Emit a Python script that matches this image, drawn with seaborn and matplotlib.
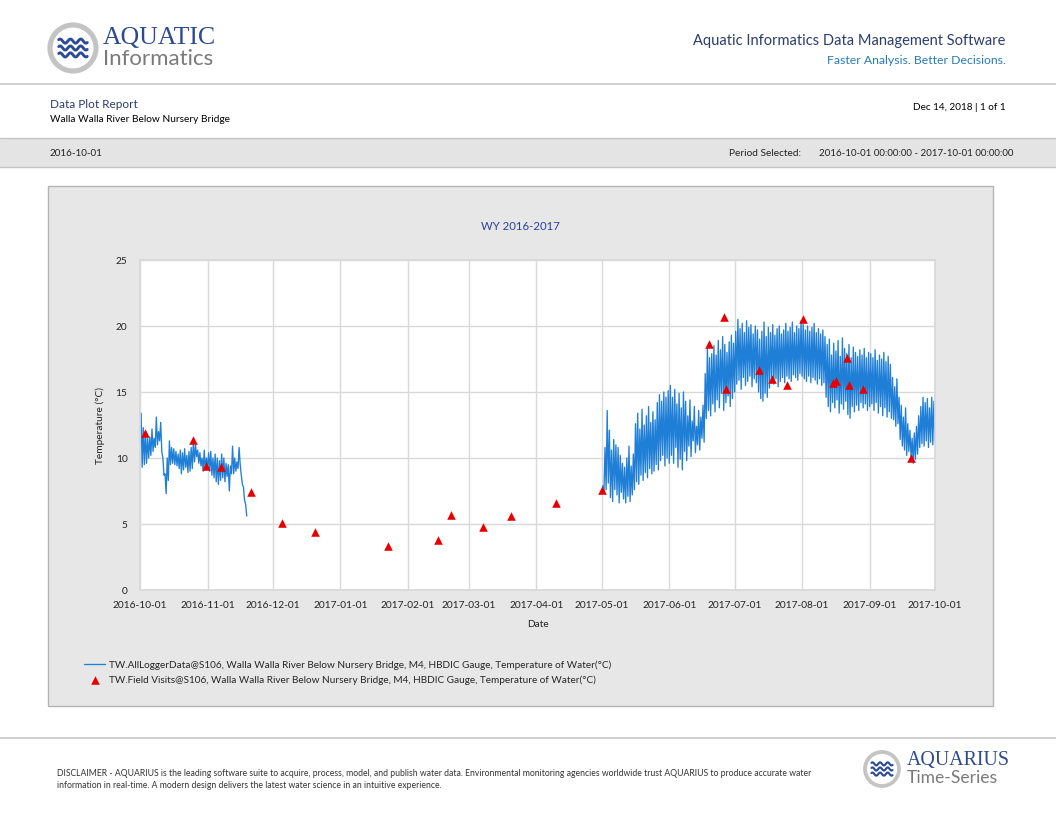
import numpy as np
import pandas as pd
import matplotlib
matplotlib.use("Agg")
import matplotlib.pyplot as plt
import matplotlib.dates as mdates
from matplotlib.patches import Rectangle, Circle
import seaborn as sns

# daily high / low of the logger (degC)
seg1_start = "2016-10-01"
seg1_max = [13.4, 12.3, 12.0, 11.5, 11.6, 12.2, 11.5, 13.1, 12.0, 12.7, 10.0, 8.8, 10.0, 11.3,
            10.8, 10.7, 10.5, 10.3, 10.6, 10.4, 10.7, 10.2, 10.5, 10.8, 11.3, 11.0, 10.6, 10.4,
            10.0, 10.6, 10.0, 10.4, 10.5, 10.0, 10.3, 10.0, 9.8, 10.3, 10.0, 9.6, 9.5, 9.4,
            10.9, 10.0, 9.7, 10.8, 8.7, 7.8, 6.5]
seg1_min = [9.3, 9.5, 9.6, 10.0, 10.2, 10.5, 10.8, 11.0, 11.3, 10.5, 8.7, 7.3, 8.3, 9.5,
            9.6, 9.5, 9.4, 9.2, 8.8, 9.1, 9.3, 8.9, 9.0, 9.2, 9.7, 10.1, 9.6, 9.4,
            9.0, 9.1, 9.2, 9.0, 8.7, 8.5, 8.2, 8.0, 8.3, 8.5, 8.2, 8.6, 7.5, 8.8,
            8.8, 9.0, 9.2, 9.5, 8.0, 6.8, 5.6]

seg2_start = "2017-05-01"
may_max = [7.9, 10.8, 13.6, 12.1, 10.6, 11.4, 11.0, 10.8, 10.2, 9.6, 9.3, 10.0, 10.9, 9.4, 10.3, 12.6,
           13.4, 12.2, 13.7, 12.5, 13.2, 13.9, 12.7, 13.5, 12.9, 14.2, 14.8, 14.3, 15.0, 14.6, 15.1]
may_min = [7.3, 7.6, 8.1, 7.0, 6.7, 7.6, 7.2, 6.6, 7.4, 6.9, 6.6, 7.1, 6.7, 7.2, 7.6, 8.2,
           8.0, 8.7, 8.3, 8.9, 8.5, 9.2, 8.8, 9.0, 9.5, 9.1, 9.8, 10.2, 9.4, 10.0, 9.6]
jun_max = [15.5, 14.6, 15.2, 14.1, 14.9, 13.8, 15.0, 14.3, 13.2, 14.4, 12.8, 13.9, 12.4, 13.6, 13.1,
           14.0, 16.4, 18.3, 17.6, 17.9, 18.5, 17.8, 18.9, 18.2, 19.2, 18.6, 18.0, 18.8, 19.3, 18.7]
jun_min = [10.2, 9.6, 10.8, 9.3, 9.9, 9.1, 10.5, 9.8, 10.9, 10.1, 11.3, 10.4, 11.0, 10.6, 11.5,
           11.2, 13.0, 13.6, 13.2, 14.1, 13.5, 14.4, 13.8, 14.9, 13.6, 14.2, 14.7, 13.9, 14.5, 15.0]
jul_max = [19.6, 20.5, 19.8, 20.2, 19.5, 20.4, 19.9, 20.1, 19.4, 20.0, 19.7, 19.0, 19.6, 20.3, 19.2, 19.9,
           19.5, 20.1, 19.3, 19.8, 20.0, 19.4, 19.7, 20.2, 19.6, 19.9, 20.3, 19.5, 20.0, 19.8, 20.4]
jul_min = [15.6, 15.9, 15.2, 16.1, 15.5, 15.8, 16.2, 15.4, 16.0, 15.7, 15.0, 14.5, 14.3, 14.9, 14.6, 15.3,
           15.9, 15.6, 16.0, 15.4, 15.8, 16.1, 15.7, 16.2, 16.0, 15.8, 16.3, 16.1, 15.9, 16.4, 16.2]
aug_max = [20.1, 19.7, 20.0, 19.6, 19.9, 20.2, 19.5, 19.8, 19.4, 19.7, 19.2, 18.6, 19.0, 17.8, 18.7, 18.1,
           18.9, 17.7, 19.1, 18.3, 17.9, 18.6, 17.6, 18.4, 18.0, 17.7, 18.2, 17.8, 18.3, 17.6, 18.0]
aug_min = [16.0, 15.8, 16.2, 15.7, 16.1, 15.9, 15.6, 16.0, 15.5, 15.7, 14.6, 13.9, 13.5, 14.2, 13.8, 14.4,
           13.4, 14.1, 13.7, 14.3, 13.3, 13.0, 13.9, 13.5, 14.0, 13.6, 14.2, 13.8, 14.1, 13.6, 13.9]
sep_max = [17.9, 17.6, 18.2, 17.4, 17.8, 17.5, 18.0, 17.3, 17.7, 17.1, 16.1, 15.4, 16.0, 14.6, 14.0,
           13.1, 13.8, 12.6, 12.1, 11.5, 11.9, 12.4, 13.2, 13.9, 14.6, 14.2, 14.5, 13.8, 14.6, 14.3]
sep_min = [14.1, 13.6, 14.2, 13.4, 13.9, 13.2, 13.8, 13.1, 13.5, 13.0, 12.9, 12.4, 12.6, 11.4, 10.9,
           10.6, 10.2, 10.5, 10.1, 9.6, 9.9, 10.3, 10.8, 11.1, 10.9, 11.3, 10.8, 11.2, 11.0, 11.3]

# field visits
visit_dates = ["2016-10-03 07:00", "2016-10-25 05:00", "2016-10-31 07:00", "2016-11-07 05:00",
               "2016-11-21 02:00", "2016-12-05 05:00", "2016-12-20 07:00", "2017-01-23 00:00",
               "2017-02-14 19:00", "2017-02-20 19:00", "2017-03-07 12:00", "2017-03-20 07:00",
               "2017-04-10 00:00", "2017-05-01 02:00", "2017-06-19 05:00", "2017-06-26 07:00",
               "2017-06-27 02:00", "2017-07-12 05:00", "2017-07-18 05:00", "2017-07-25 05:00",
               "2017-08-01 07:00", "2017-08-15 07:00", "2017-08-16 10:00", "2017-08-21 12:00",
               "2017-08-22 10:00", "2017-08-29 02:00", "2017-09-20 00:00"]
visit_temps = [11.9, 11.4, 9.4, 9.3, 7.4, 5.1, 4.4, 3.3, 3.8, 5.7, 4.8, 5.6, 6.6, 7.6,
               18.6, 20.7, 15.2, 16.7, 16.0, 15.5, 20.5, 15.7, 15.8, 17.6, 15.5, 15.2, 10.0]

logger_label = "TW.AllLoggerData@S106, Walla Walla River Below Nursery Bridge, M4, HBDIC Gauge, Temperature of Water(°C)"
visit_label = "TW.Field Visits@S106, Walla Walla River Below Nursery Bridge, M4, HBDIC Gauge, Temperature of Water(°C)"
month_ticks = pd.date_range("2016-10-01", "2017-10-01", freq="MS")
y_ticks = [0, 5, 10, 15, 20, 25]

disclaimer = ["DISCLAIMER - AQUARIUS is the leading software suite to acquire, process, model, and publish water data. "
              "Environmental monitoring agencies worldwide trust AQUARIUS to produce accurate water",
              "information in real-time. A modern design delivers the latest water science in an intuitive experience."]


def daily_series(start, highs, lows):
    days = pd.date_range(start, periods=len(highs), freq="D")
    t, v = [], []
    for d, hi, lo in zip(days, highs, lows):
        t += [d + pd.Timedelta(hours=12), d + pd.Timedelta(hours=24)]
        v += [hi, lo]
    return pd.DataFrame({"time": t, "temp": v})


seg1 = daily_series(seg1_start, seg1_max, seg1_min)
seg2 = daily_series(seg2_start, may_max + jun_max + jul_max + aug_max + sep_max,
                    may_min + jun_min + jul_min + aug_min + sep_min)
visits = pd.DataFrame({"time": pd.to_datetime(visit_dates), "temp": visit_temps})

W, H = 1056, 816
NAVY = "#2b3d6e"
LINE = "#1f7fd6"
RED = "#e80000"

sns.set_theme(style="white")
plt.rcParams["font.family"] = ["Lato", "DejaVu Sans"]

fig = plt.figure(figsize=(W / 100, H / 100), dpi=100)
fig.patch.set_facecolor("white")

# page furniture, in pixel coordinates
bg = fig.add_axes([0, 0, 1, 1], zorder=0)
bg.set_xlim(0, W)
bg.set_ylim(H, 0)
bg.axis("off")


def logo(cx, cy, r):
    bg.add_patch(Circle((cx, cy), r, facecolor="white", edgecolor="#c4c4c4", lw=r * 0.16))
    xs = np.linspace(cx - r * 0.62, cx + r * 0.62, 60)
    for off in (-0.3, 0, 0.3):
        bg.plot(xs, cy + off * r + 0.09 * r * np.sin((xs - cx) / r * 14), color="#2c4b95", lw=r * 0.09,
                solid_capstyle="round")


logo(73, 48, 23)
bg.text(103, 38, "AQUATIC", fontsize=18.5, color="#2d4a8f", family="Liberation Serif", va="center")
bg.text(103, 59, "Informatics", fontsize=16, color="#7a7a7a", va="center")
bg.text(1005, 41, "Aquatic Informatics Data Management Software", fontsize=10.5, color=NAVY,
        ha="right", va="center")
bg.text(1006, 60, "Faster Analysis. Better Decisions.", fontsize=8.8, color="#2a7ab5", ha="right", va="center")
bg.plot([0, W], [84, 84], color="#c8c8c8", lw=1.2)

bg.text(50, 105, "Data Plot Report", fontsize=8.5, color=NAVY, va="center")
bg.text(50, 120, "Walla Walla River Below Nursery Bridge", fontsize=7.3, color="black", va="center")
bg.text(1006, 108, "Dec 14, 2018 | 1 of 1", fontsize=7.2, color="black", ha="right", va="center")

bg.add_patch(Rectangle((0, 138), W, 29, facecolor="#e4e4e4", edgecolor="none"))
bg.plot([0, W], [138, 138], color="#c4c4c4", lw=1)
bg.plot([0, W], [167, 167], color="#c4c4c4", lw=1)
bg.text(50, 153, "2016-10-01", fontsize=7.1, color="#222222", va="center")
bg.text(729, 153, "Period Selected:", fontsize=7.3, color="#222222", va="center")
bg.text(819, 153, "2016-10-01 00:00:00 - 2017-10-01 00:00:00", fontsize=7.0, color="#222222", va="center")

bg.add_patch(Rectangle((48, 186), 945, 520, facecolor="#e7e7e7", edgecolor="#b4b4b4", lw=1))
bg.text(520, 226, "WY 2016-2017", fontsize=8.2, color="#2b3f9e", ha="center", va="center")

bg.plot([0, W], [738, 738], color="#c8c8c8", lw=1.2)
bg.text(57, 773, disclaimer[0], fontsize=6.2, color="#333333", va="center")
bg.text(57, 785, disclaimer[1], fontsize=6.2, color="#333333", va="center")
logo(882, 769, 17)
bg.text(907, 760, "AQUARIUS", fontsize=14.3, color="#2d4a8f", family="Liberation Serif", va="center")
bg.text(907, 778, "Time-Series", fontsize=12.6, color="#7a7a7a", va="center")

# the chart
ax = fig.add_axes([140 / W, (H - 590) / H, 795 / W, 330 / H], zorder=2)
ax.set_facecolor("white")
sns.lineplot(data=seg1, x="time", y="temp", sort=False, estimator=None, color=LINE, lw=0.95,
             label=logger_label, ax=ax)
sns.lineplot(data=seg2, x="time", y="temp", sort=False, estimator=None, color=LINE, lw=0.95,
             label="_nolegend_", ax=ax)
sns.scatterplot(data=visits, x="time", y="temp", marker="^", s=38, color=RED, linewidth=0,
                label=visit_label, ax=ax, zorder=3)

ax.set_xlim(pd.Timestamp("2016-10-01"), pd.Timestamp("2017-10-01"))
ax.set_ylim(0, 25)
ax.set_xticks(month_ticks)
ax.xaxis.set_major_formatter(mdates.DateFormatter("%Y-%m-%d"))
ax.set_yticks(y_ticks)
ax.grid(True, color="#d9d9d9", lw=1)
ax.set_axisbelow(True)
for sp in ax.spines.values():
    sp.set_color("#d9d9d9")
ax.tick_params(length=0, labelsize=7.3, colors="#222222")
ax.tick_params(axis="x", pad=8)
ax.tick_params(axis="y", pad=9)
ax.set_xlabel("Date", fontsize=7.3, color="#222222", labelpad=7)
ax.set_ylabel("Temperature (°C)", fontsize=7.3, color="#222222", labelpad=8)

handles, labels = ax.get_legend_handles_labels()
ax.legend(handles, labels, loc="upper left", bbox_to_anchor=(80 / W, 1 - 656 / H),
          bbox_transform=fig.transFigure, frameon=False, fontsize=7.2, handlelength=2.1,
          handletextpad=0.4, labelspacing=0.55, borderaxespad=0)

fig.savefig("out.png", dpi=100, facecolor="white")
